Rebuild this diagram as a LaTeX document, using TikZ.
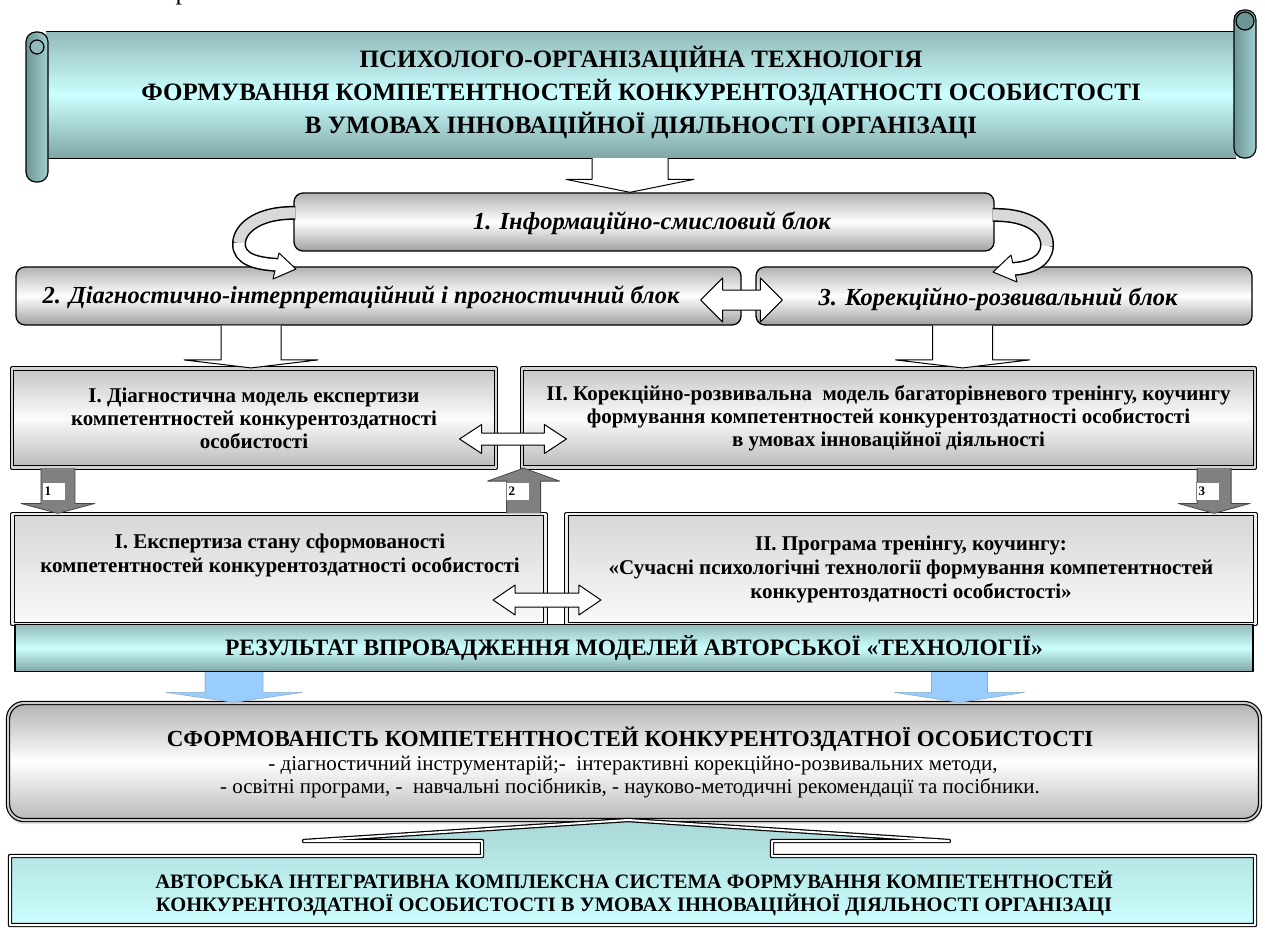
\documentclass[tikz,border=0pt]{standalone}
\usepackage{fontspec}
\setmainfont{Liberation Serif}
\usetikzlibrary{calc,positioning,shadows}

\definecolor{tealtop}{HTML}{93BBBB}
\definecolor{tealmid}{HTML}{CCFFFF}
\definecolor{tealbot}{HTML}{7FA6A6}
\definecolor{rodteal}{HTML}{6C9696}
\definecolor{arrblue}{HTML}{99CCFF}
\definecolor{arrgray}{HTML}{808080}

% block arrow: start (only its y is used), tip, half shaft, half head, head length (signed)
\newcommand{\blockarrow}[6][]{%
  \filldraw[#1] let \p1=(#2), \p2=(#3) in
    ({\x2-#4},\y1) -- ({\x2-#4},{\y2+(#6)}) -- ({\x2-#5},{\y2+(#6)}) -- (\x2,\y2)
    -- ({\x2+#5},{\y2+(#6)}) -- ({\x2+#4},{\y2+(#6)}) -- ({\x2+#4},\y1);}

% double block arrow between two tips: half shaft, half head, head length
\newcommand{\dblarrow}[6][]{%
  \filldraw[#1] let \p1=(#2), \p2=(#3) in
    (\p1) -- ({\x1+#6},{\y1+#5}) -- ({\x1+#6},{\y1+#4}) -- ({\x2-#6},{\y1+#4})
    -- ({\x2-#6},{\y1+#5}) -- (\x2,\y1) -- ({\x2-#6},{\y1-#5}) -- ({\x2-#6},{\y1-#4})
    -- ({\x1+#6},{\y1-#4}) -- ({\x1+#6},{\y1-#5}) -- cycle;}

\tikzset{
  scrollbody/.style={top color=tealtop, bottom color=tealbot, middle color=tealmid},
  rod/.style={draw, line width=1.2pt, rounded corners=10pt, left color=rodteal, right color=tealmid!55!rodteal},
  blockbox/.style={draw, line width=1.3pt, rounded corners=9pt, top color=gray!60, bottom color=gray!75, middle color=white, inner sep=0pt},
  blocktext/.style={font=\bfseries\itshape\fontsize{24.5}{28}\selectfont},
  modelbox/.style={draw, line width=1.2pt, double=gray!35, double distance=2.4pt, top color=gray!45, bottom color=gray!55, middle color=gray!3, align=center, inner sep=0pt, font=\bfseries\fontsize{21}{23}\selectfont},
  expbox/.style={draw, line width=1.2pt, double=gray!15, double distance=2.4pt, top color=gray!32, bottom color=gray!4, align=center, inner sep=0pt, font=\bfseries\fontsize{21}{24}\selectfont},
  resultbar/.style={draw, line width=1.3pt, scrollbody, inner sep=0pt, font=\bfseries\fontsize{23.5}{26}\selectfont},
  formbox/.style={draw, line width=1.2pt, double=gray!40, double distance=2pt, rounded corners=16pt, top color=gray!60, bottom color=gray!55, middle color=white, drop shadow={shadow xshift=0pt, shadow yshift=-4pt, fill=gray!50}},
  formline/.style={font=\fontsize{21}{22}\selectfont},
  calloutbox/.style={line width=1.2pt, double=white, double distance=2pt, top color=tealtop!60!tealmid, bottom color=tealmid},
  hollow/.style={draw, fill=white, line width=1pt},
  grayarr/.style={draw=gray!55!black, fill=arrgray, line width=0.8pt},
  bluearr/.style={draw=arrblue!60!gray, fill=arrblue, line width=0.6pt},
  numlbl/.style={draw=gray, fill=white, font=\bfseries\fontsize{13}{13}\selectfont, text width=19pt, minimum height=18pt, inner sep=2pt, align=left},
}

\begin{document}
\begin{tikzpicture}[x=1pt, y=-1pt, line join=round]
\useasboundingbox (0,0) rectangle (1265,927);

\node[font=\fontsize{26}{26}\selectfont] (frag) at (182,-4) {р};

% scroll with the title
\node[scrollbody, minimum width=1190pt, minimum height=126pt, inner sep=0pt] (scroll) at (641,95) {};
\draw[line width=1.2pt] (scroll.north west) -- (scroll.north east) (scroll.south west) -- (scroll.south east);
\shade[rod] (1234,10) rectangle (1256,158);
\draw[line width=1.2pt, fill=rodteal] (1245,21) circle (9pt);
\shade[rod] (26,32) rectangle (48,182);
\draw[line width=1.2pt, fill=tealtop] (37,47) circle (7pt);
\node[font=\bfseries\fontsize{25}{33}\selectfont, align=center] (title) at (641,93)
  {ПСИХОЛОГО-ОРГАНІЗАЦІЙНА ТЕХНОЛОГІЯ\\
   ФОРМУВАННЯ КОМПЕТЕНТНОСТЕЙ КОНКУРЕНТОЗДАТНОСТІ ОСОБИСТОСТІ\\
   В УМОВАХ ІННОВАЦІЙНОЇ ДІЯЛЬНОСТІ ОРГАНІЗАЦІ};

% three blocks
\node[blockbox, minimum width=700pt, minimum height=58pt] (blkinfo) at (644,222) {};
\node[blockbox, minimum width=725pt, minimum height=58pt] (blkdiag) at (378.5,296) {};
\node[blockbox, minimum width=496pt, minimum height=58pt] (blkcorr) at (1004,296) {};
\node[blocktext] (blkinfotxt) at (652,223) {1. Інформаційно-смисловий блок};
\node[blocktext] (blkdiagtxt) at (361,297) {2. Діагностично-інтерпретаційний і прогностичний блок};
\node[blocktext] (blkcorrtxt) at (998,299) {3. Корекційно-розвивальний блок};

% models
\node[modelbox, minimum width=484pt, minimum height=99pt] (modeldiag) at (254,418)
  {І. Діагностична модель експертизи\\компетентностей конкурентоздатності\\особистості};
\node[modelbox, minimum width=733pt, minimum height=99pt] (modelcorr) at (888.5,418)
  {ІІ. Корекційно-розвивальна\ \ модель багаторівневого тренінгу, коучингу\\
   формування компетентностей конкурентоздатності особистості\\
   в умовах інноваційної діяльності};

% expertise and programme
\node[expbox, minimum width=533pt, minimum height=110pt] (expdiag) at (279,569) {};
\node[font=\bfseries\fontsize{21}{24}\selectfont, align=center] (expdiagtxt) at (280,555)
  {І. Експертиза стану сформованості\\компетентностей конкурентоздатності особистості};
\node[expbox, minimum width=689pt, minimum height=110pt] (expprog) at (911,569)
  {ІІ. Програма тренінгу, коучингу:\\
   «Сучасні психологічні технології формування компетентностей\\
   конкурентоздатності особистості»};

% result bar
\node[resultbar, minimum width=1238pt, minimum height=47pt] (result) at (634,648)
  {РЕЗУЛЬТАТ ВПРОВАДЖЕННЯ МОДЕЛЕЙ АВТОРСЬКОЇ «ТЕХНОЛОГІЇ»};

% formed competences
\node[formbox, minimum width=1252pt, minimum height=117pt] (formbox) at (634,761.5) {};
\node[font=\bfseries\fontsize{23}{26}\selectfont] (formhead) at (630,739)
  {СФОРМОВАНІСТЬ КОМПЕТЕНТНОСТЕЙ КОНКУРЕНТОЗДАТНОЇ ОСОБИСТОСТІ};
\node[formline] (formline1) at (633,766)
  {- діагностичний інструментарій;-\ \ інтерактивні корекційно-розвивальних методи,};
\node[formline] (formline2) at (630,788)
  {- освітні програми, -\ \ навчальні посібників, - науково-методичні рекомендації та посібники.};

% author system with its arrow
\shadedraw[calloutbox] (10,856) -- (482,856) -- (482,841) -- (304,841) -- (628,820) -- (949,841)
  -- (772,841) -- (772,856) -- (1255,856) -- (1255,925) -- (10,925) -- cycle;
\node[font=\bfseries\fontsize{20.5}{23}\selectfont, align=center] (authsys) at (634,893)
  {АВТОРСЬКА ІНТЕГРАТИВНА КОМПЛЕКСНА СИСТЕМА ФОРМУВАННЯ КОМПЕТЕНТНОСТЕЙ\\
   КОНКУРЕНТОЗДАТНОЇ ОСОБИСТОСТІ В УМОВАХ ІННОВАЦІЙНОЇ ДІЯЛЬНОСТІ ОРГАНІЗАЦІ};

% hollow arrows
\blockarrow[hollow]{scroll.south}{$(blkinfo.north)+(-14,0)$}{38pt}{64pt}{13pt}
\blockarrow[hollow]{blkdiag.south}{$(modeldiag.north)+(-3,0)$}{30pt}{67pt}{8pt}
\blockarrow[hollow]{blkcorr.south}{$(modelcorr.north)+(74,0)$}{30pt}{67pt}{8pt}

% curved arrows
\draw[line width=14pt, line cap=butt] ($(blkinfo.west)+(2,-9)$) .. controls (262,212) and (240,226) .. (239,243)
  .. controls (238,260) and (258,264) .. (280,265);
\filldraw[hollow] (279,253) -- (296,269) -- (273,279) -- cycle;
\draw[line width=11pt, gray!30] ($(blkinfo.west)+(2,-9)$) .. controls (262,212) and (240,226) .. (239,243);
\draw[line width=11pt, white] (239,243) .. controls (238,260) and (258,264) .. (280,265);

\draw[line width=14pt, line cap=butt] ($(blkinfo.east)+(-2,-7)$) .. controls (1030,214) and (1048,230) .. (1047,246)
  .. controls (1046,262) and (1030,268) .. (1012,269);
\filldraw[hollow] (1011,255) -- (993,272) -- (1017,282) -- cycle;
\draw[line width=11pt, gray!30] ($(blkinfo.east)+(-2,-7)$) .. controls (1030,214) and (1048,230) .. (1047,246);
\draw[line width=11pt, white] (1047,246) .. controls (1046,262) and (1030,268) .. (1012,269);

% double arrows
\coordinate (blkdbl-l) at ($(blkdiag.east)+(-41,4)$);
\coordinate (blkdbl-r) at ($(blkcorr.west)+(27,4)$);
\dblarrow[hollow]{blkdbl-l}{blkdbl-r}{10pt}{22pt}{22pt}
\coordinate (moddbl-l) at ($(modeldiag.east)+(-37,21)$);
\coordinate (moddbl-r) at ($(modelcorr.west)+(45,21)$);
\dblarrow[hollow]{moddbl-l}{moddbl-r}{6pt}{14.5pt}{22pt}
\coordinate (expdbl-l) at ($(expdiag.east)+(-53,31)$);
\coordinate (expdbl-r) at ($(expprog.west)+(35,31)$);
\dblarrow[hollow]{expdbl-l}{expdbl-r}{7pt}{15pt}{22pt}

% numbered gray arrows
\blockarrow[grayarr]{modeldiag.south}{$(expdiag.north west)+(46,0)$}{17pt}{37pt}{10pt}
\blockarrow[grayarr]{expdiag.north}{$(modeldiag.south east)+(27,0)$}{17pt}{36pt}{-13pt}
\blockarrow[grayarr]{modelcorr.south}{$(expprog.north east)+(-42,0)$}{17pt}{36pt}{10pt}
\node[numlbl] (lbl1) at (54,491) {1};
\node[numlbl] (lbl2) at (518,491) {2};
\node[numlbl] (lbl3) at (1208,491) {3};

% blue arrows
\blockarrow[bluearr]{result.south}{$(formbox.north)+(-400,0)$}{29pt}{68pt}{10pt}
\blockarrow[bluearr]{result.south}{$(formbox.north)+(325.5,0)$}{28pt}{65pt}{10pt}

\end{tikzpicture}
\end{document}
